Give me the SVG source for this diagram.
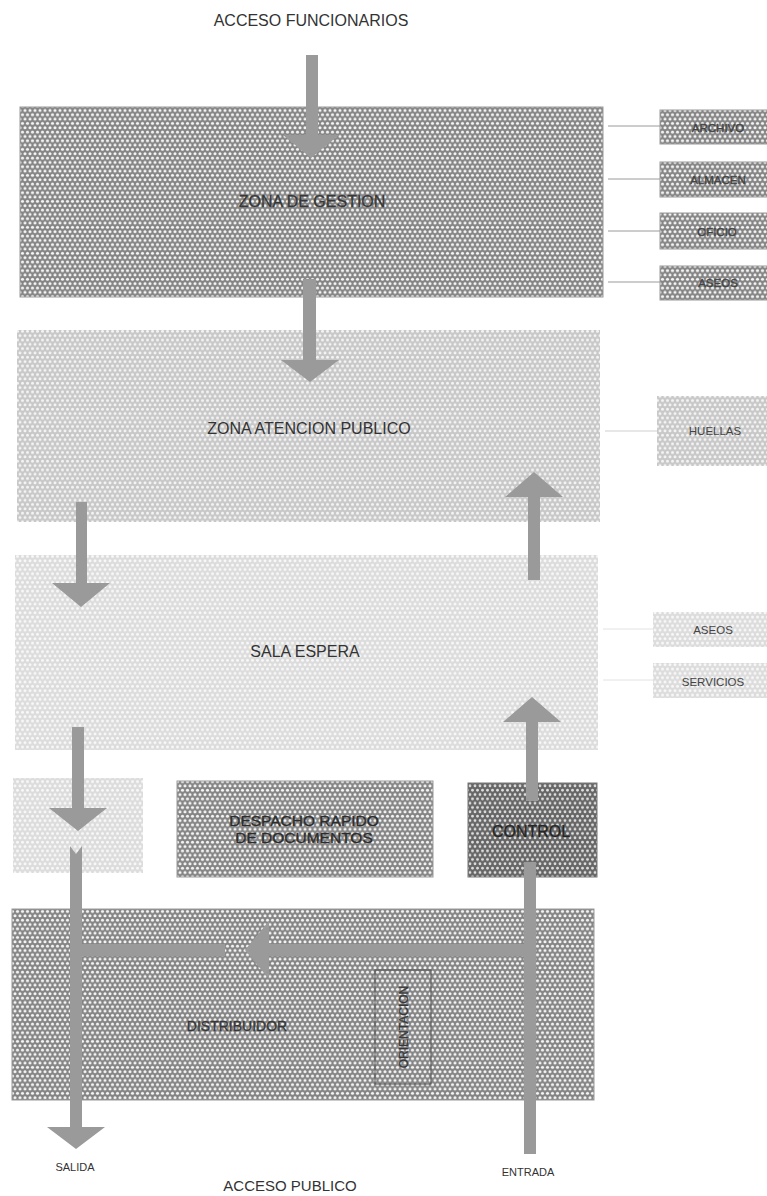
<svg xmlns="http://www.w3.org/2000/svg" width="767" height="1196" viewBox="0 0 767 1196">
<defs>
<pattern id="pDark" patternUnits="userSpaceOnUse" width="5" height="8.66">
<rect width="5" height="8.66" fill="#858585"/>
<circle cx="2.5" cy="2.165" r="1.55" fill="#f4f4f4"/>
<circle cx="0" cy="6.495" r="1.55" fill="#f4f4f4"/>
<circle cx="5" cy="6.495" r="1.55" fill="#f4f4f4"/>
</pattern>
<pattern id="pDarker" patternUnits="userSpaceOnUse" width="5" height="8.66">
<rect width="5" height="8.66" fill="#666"/>
<circle cx="2.5" cy="2.165" r="1.4" fill="#dedede"/>
<circle cx="0" cy="6.495" r="1.4" fill="#dedede"/>
<circle cx="5" cy="6.495" r="1.4" fill="#dedede"/>
</pattern>
<pattern id="pLight" patternUnits="userSpaceOnUse" width="5" height="8.66">
<rect width="5" height="8.66" fill="#c8c8c8"/>
<circle cx="2.5" cy="2.165" r="1.5" fill="#f4f4f4"/>
<circle cx="0" cy="6.495" r="1.5" fill="#f4f4f4"/>
<circle cx="5" cy="6.495" r="1.5" fill="#f4f4f4"/>
</pattern>
<pattern id="pLighter" patternUnits="userSpaceOnUse" width="5" height="8.66">
<rect width="5" height="8.66" fill="#dcdcdc"/>
<circle cx="2.5" cy="2.165" r="1.5" fill="#f8f8f8"/>
<circle cx="0" cy="6.495" r="1.5" fill="#f8f8f8"/>
<circle cx="5" cy="6.495" r="1.5" fill="#f8f8f8"/>
</pattern>
</defs>
<style>
text { font-family: "Liberation Sans", Arial, sans-serif; text-anchor: middle; }
.dark { fill: url(#pDark); stroke: #999; stroke-width: 1; }
.darker { fill: url(#pDarker); stroke: #777; stroke-width: 1; }
.light { fill: url(#pLight); }
.lighter { fill: url(#pLighter); }
.big { font-size: 16px; fill: #333; }
.ink { stroke: #444; stroke-width: 0.35; }
.small { font-size: 11.5px; fill: #444; }
.tiny { font-size: 11px; fill: #333; }
.heavy { font-size: 15.5px; fill: #2a2a2a; stroke: #333; stroke-width: 0.4; }
.arrow { fill: #9a9a9a; }
.link { stroke: #9a9a9a; stroke-width: 1; fill: none; }
.link2 { stroke: #cfcfcf; stroke-width: 1; fill: none; }
.link3 { stroke: #e2e2e2; stroke-width: 1; fill: none; }
</style>
<rect width="767" height="1196" fill="#fff"/>

<text x="311" y="26" style="font-size:16px;fill:#333">ACCESO FUNCIONARIOS</text>

<g id="zona-gestion">
<rect class="dark" x="20" y="107" width="583" height="190"/>
<text class="big ink" x="312" y="207">ZONA DE GESTION</text>
</g>
<g id="archivo">
<rect class="dark" x="660" y="110" width="110" height="34"/>
<text class="small ink" x="718" y="132">ARCHIVO</text>
</g>
<g id="almacen">
<rect class="dark" x="660" y="162" width="110" height="35"/>
<text class="small ink" x="718" y="184">ALMACEN</text>
</g>
<g id="oficio">
<rect class="dark" x="660" y="213" width="110" height="36"/>
<text class="small ink" x="717" y="236">OFICIO</text>
</g>
<g id="aseos-gestion">
<rect class="dark" x="660" y="266" width="110" height="34"/>
<text class="small ink" x="718" y="287">ASEOS</text>
</g>

<g id="zona-atencion">
<rect class="light" x="17" y="330" width="583" height="192"/>
<text class="big" x="309" y="434">ZONA ATENCION PUBLICO</text>
</g>
<g id="huellas">
<rect class="light" x="657" y="396" width="113" height="70"/>
<text class="small" x="715" y="435">HUELLAS</text>
</g>

<g id="sala-espera">
<rect class="lighter" x="15" y="555" width="583" height="195"/>
<text class="big" x="305" y="657">SALA ESPERA</text>
</g>
<g id="aseos-publico">
<rect class="lighter" x="653" y="612" width="117" height="35"/>
<text class="small" x="713" y="634">ASEOS</text>
</g>
<g id="servicios">
<rect class="lighter" x="653" y="663" width="117" height="35"/>
<text class="small" x="713" y="686">SERVICIOS</text>
</g>

<g id="salida-espacio">
<rect class="lighter" x="13" y="778" width="130" height="95"/>
</g>
<g id="despacho">
<rect class="dark" x="177" y="781" width="256" height="96"/>
<text class="heavy" x="304" y="826">DESPACHO RAPIDO</text>
<text class="heavy" x="304" y="843">DE DOCUMENTOS</text>
</g>
<g id="control">
<rect class="darker" x="468" y="783" width="129" height="94"/>
<text class="heavy" x="531" y="837" style="font-size:16px;fill:#222">CONTROL</text>
</g>

<g id="distribuidor">
<rect class="dark" x="12" y="909" width="582" height="191"/>
<text class="big ink" x="237" y="1031" style="font-size:14px">DISTRIBUIDOR</text>
</g>
<g id="orientacion">
<rect x="375" y="970" width="56" height="114" fill="none" stroke="#555" stroke-width="1"/>
<text class="tiny ink" transform="translate(408 1027) rotate(-90)" style="font-size:12px">ORIENTACION</text>
</g>

<g id="connectors">
<line class="link" x1="608" y1="126" x2="660" y2="126"/>
<line class="link" x1="608" y1="179" x2="660" y2="179"/>
<line class="link" x1="608" y1="231" x2="660" y2="231"/>
<line class="link" x1="608" y1="282" x2="660" y2="282"/>
<line class="link2" x1="605" y1="431" x2="657" y2="431"/>
<line class="link3" x1="603" y1="629" x2="653" y2="629"/>
<line class="link3" x1="603" y1="680" x2="653" y2="680"/>

<polygon class="arrow" points="306,55 318,55 318,135 339,135 311,158 283,135 306,135"/>
<polygon class="arrow" points="303,279 316,279 316,360 339,360 310,382 281,360 303,360"/>
<polygon class="arrow" points="76,502 87,502 87,583 110,583 81,607 52,583 76,583"/>
<polygon class="arrow" points="528,580 540,580 540,497 563,497 534,472 505,497 528,497"/>
<polygon class="arrow" points="526,801 538,801 538,722 561,722 532,697 503,722 526,722"/>
<polygon class="arrow" points="72,727 84,727 84,808 107,808 78,831 49,808 72,808"/>
<polygon class="arrow" points="70,846 76,854 82,846 82,1127 105,1127 76,1149 47,1127 70,1127"/>
<rect class="arrow" x="82" y="944" width="143" height="12"/>
<polygon class="arrow" points="524,944 269,944 269,921 245,950 269,979 269,956 524,956"/>
<rect class="arrow" x="524" y="862" width="12" height="292"/>
</g>

<text class="tiny" x="75" y="1171">SALIDA</text>
<text class="tiny" x="528" y="1176">ENTRADA</text>
<text x="290" y="1191" style="font-size:15px;fill:#333">ACCESO PUBLICO</text>
</svg>
